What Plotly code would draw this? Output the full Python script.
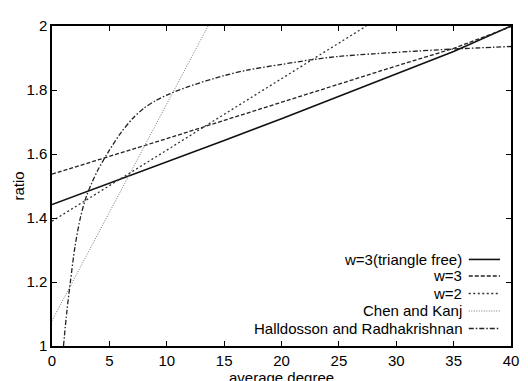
import plotly.graph_objects as go

# ---- data ----
deg_lin = [0, 5, 10, 15, 20, 25, 30, 35, 40]
ratio_w3_tf = [1.442, 1.508, 1.575, 1.642, 1.710, 1.780, 1.850, 1.920, 2.000]
ratio_w3 = [1.537, 1.592, 1.648, 1.705, 1.762, 1.820, 1.875, 1.930, 1.998]

deg_w2 = [0, 5, 10, 15, 20, 25, 27.4]
ratio_w2 = [1.390, 1.500, 1.612, 1.724, 1.836, 1.947, 2.000]

deg_ck = [0, 5, 10, 13.6]
ratio_ck = [1.079, 1.418, 1.757, 2.000]

deg_hr = [1.0, 1.3, 1.6, 2.0, 2.5, 3.0, 3.5, 4.0, 5.0, 6.0, 7.0, 8.0, 9.0, 10.0,
          12.0, 15.0, 17.0, 20.0, 22.5, 25.0, 28.0, 31.0, 35.0, 40.0]
ratio_hr = [1.000, 1.110, 1.200, 1.310, 1.405, 1.468, 1.512, 1.550, 1.612, 1.666,
            1.710, 1.743, 1.766, 1.784, 1.812, 1.845, 1.862, 1.880, 1.894, 1.905,
            1.913, 1.920, 1.928, 1.936]

names = ["w=3(triangle free)", "w=3", "w=2", "Chen and Kanj",
         "Halldosson and Radhakrishnan"]
styles = [
    dict(color="#111111", width=1.6, dash="solid"),
    dict(color="#222222", width=1.3, dash="4px,2px"),
    dict(color="#333333", width=1.3, dash="2px,2.5px"),
    dict(color="#777777", width=1.0, dash="1px,1.5px"),
    dict(color="#222222", width=1.3, dash="5px,2px,1.5px,2px"),
]
series = [(deg_lin, ratio_w3_tf), (deg_lin, ratio_w3), (deg_w2, ratio_w2),
          (deg_ck, ratio_ck), (deg_hr, ratio_hr)]

fig = go.Figure()
for i, ((xs, ys), nm, st) in enumerate(zip(series, names, styles)):
    ln = dict(st)
    if i == 4:
        ln.update(shape="spline", smoothing=0.8)
    fig.add_trace(go.Scatter(x=xs, y=ys, mode="lines", name=nm, line=ln,
                             showlegend=False))

FONT = "Liberation Sans, Arial, sans-serif"

# manual legend: right-aligned text, line sample on the right
leg_y = [0.2705, 0.2188, 0.1641, 0.1094, 0.0547]
for nm, st, yy in zip(names, styles, leg_y):
    fig.add_annotation(x=0.897, y=yy, xref="paper", yref="paper", text=nm,
                       showarrow=False, xanchor="right", yanchor="middle",
                       font=dict(family=FONT, size=15, color="black"))
    fig.add_shape(type="line", xref="paper", yref="paper", x0=0.908, x1=0.976,
                  y0=yy, y1=yy, line=st)

# axis titles
fig.add_annotation(x=0.5, y=-0.097, xref="paper", yref="paper",
                   text="average degree", showarrow=False,
                   xanchor="center", yanchor="middle",
                   font=dict(family=FONT, size=15, color="black"))
fig.add_annotation(x=-0.075, y=0.5, xref="paper", yref="paper", text="ratio",
                   showarrow=False, textangle=-90, xanchor="center",
                   yanchor="middle", font=dict(family=FONT, size=15, color="black"))

axis_common = dict(showline=True, linecolor="black", linewidth=1.5,
                   mirror="ticks", ticks="inside", ticklen=5, tickwidth=1.2,
                   tickcolor="black", showgrid=False, zeroline=False,
                   tickfont=dict(family=FONT, size=15, color="black"))

fig.update_xaxes(range=[0, 40], tickvals=[0, 5, 10, 15, 20, 25, 30, 35, 40],
                 ticktext=["0", "5", "10", "15", "20", "25", "30", "35", "40"],
                 **axis_common)
fig.update_yaxes(range=[1, 2], tickvals=[1, 1.2, 1.4, 1.6, 1.8, 2],
                 ticktext=["1", "1.2", "1.4", "1.6", "1.8", "2"],
                 **axis_common)

# page body has an 8px margin: compensate so the plot area sits at 52..518 x 17..346
fig.update_layout(width=520, height=373,
                  margin=dict(l=44, r=10, t=9, b=35),
                  paper_bgcolor="white", plot_bgcolor="white",
                  showlegend=False)

fig.write_html("out.html")
